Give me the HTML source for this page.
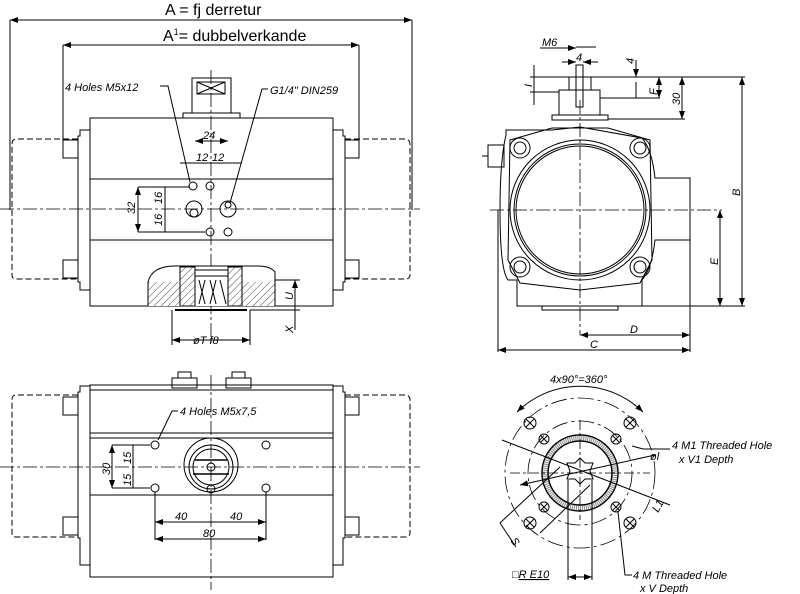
<!DOCTYPE html>
<html><head><meta charset="utf-8"><style>
html,body{margin:0;padding:0;background:#fff}
svg{display:block}
text{font-family:"Liberation Sans",sans-serif;fill:#000}
.i{font-style:italic;font-size:11px}
</style></head><body>
<svg width="800" height="594" viewBox="0 0 800 594" xmlns="http://www.w3.org/2000/svg" stroke="#000" fill="none" stroke-width="1">
<defs>
<marker id="a" markerWidth="8" markerHeight="6" refX="8" refY="3" orient="auto-start-reverse"><path d="M0,0 L8,3 L0,6" fill="#000" stroke="none"/></marker>
<pattern id="h" width="5" height="5" patternUnits="userSpaceOnUse" patternTransform="rotate(45)"><line x1="0" y1="0" x2="0" y2="5" stroke="#000" stroke-width="0.7"/></pattern>
</defs>

<!-- ===== TOP LEFT VIEW ===== -->
<text x="165" y="15" font-size="16" stroke="none">A = fj derretur</text>
<line x1="10" y1="20" x2="412" y2="20" marker-start="url(#a)" marker-end="url(#a)"/>
<line x1="10" y1="20" x2="10" y2="210"/><line x1="412" y1="20" x2="412" y2="210"/>
<text x="163" y="41" font-size="16" stroke="none">A<tspan font-size="9" dy="-6">1</tspan><tspan dy="6">= dubbelverkande</tspan></text>
<line x1="63" y1="45" x2="359" y2="45" marker-start="url(#a)" marker-end="url(#a)"/>
<line x1="63" y1="45" x2="63" y2="140"/><line x1="359" y1="45" x2="359" y2="140"/>
<!-- caps -->
<path d="M78,139 H16 Q12,139 12,145 V275 Q12,279 16,279 H78" stroke-dasharray="6,3"/>
<path d="M345,139 H405 Q410,139 410,145 V275 Q410,279 405,279 H345" stroke-dasharray="6,3"/>
<path d="M90,130 H80 V136 H78 V282 H80 V290 H90"/>
<path d="M333,130 H343 V136 H345 V282 H343 V290 H333"/>
<rect x="63" y="140" width="15" height="18"/><rect x="63" y="260" width="15" height="18"/>
<rect x="345" y="140" width="14" height="18"/><rect x="345" y="260" width="14" height="18"/>
<rect x="90" y="118" width="243" height="188"/>
<line x1="90" y1="179" x2="333" y2="179"/><line x1="90" y1="240" x2="333" y2="240"/>
<!-- top pinion -->
<rect x="183" y="113" width="57" height="5"/>
<rect x="192" y="78" width="39" height="35"/>
<rect x="197" y="82" width="28" height="12"/>
<path d="M197,82 L225,94 M225,82 L197,94"/>
<line x1="0" y1="209" x2="420" y2="209" stroke-dasharray="14,3,3,3" stroke-width="0.8"/>
<line x1="211" y1="70" x2="211" y2="345" stroke-dasharray="14,3,3,3" stroke-width="0.8"/>
<!-- holes -->
<circle cx="193" cy="186" r="4"/><circle cx="210" cy="186" r="4"/>
<circle cx="210" cy="232" r="4"/><circle cx="228" cy="232" r="4"/>
<circle cx="194" cy="209" r="8"/><circle cx="194" cy="213" r="4"/>
<circle cx="228" cy="209" r="8"/><circle cx="228" cy="205" r="3"/>
<text x="65" y="91" class="i" stroke="none">4 Holes M5x12</text>
<path d="M160,86 H168 L190,182"/>
<text x="270" y="94" class="i" stroke="none">G1/4" DIN259</text>
<path d="M268,89 H262 L230,203"/>
<line x1="195" y1="141" x2="228" y2="141" marker-start="url(#a)" marker-end="url(#a)"/>
<text x="203" y="139" class="i" font-size="12" stroke="none">24</text>
<line x1="180" y1="163" x2="242" y2="163"/>
<text x="196" y="161" class="i" font-size="12" stroke="none">12</text><text x="212" y="161" class="i" font-size="12" stroke="none">12</text>
<line x1="138" y1="187" x2="138" y2="232" marker-start="url(#a)" marker-end="url(#a)"/>
<line x1="138" y1="187" x2="190" y2="187"/><line x1="138" y1="232" x2="205" y2="232"/>
<line x1="165" y1="187" x2="165" y2="232"/>
<text x="135" y="214" class="i" font-size="12" stroke="none" transform="rotate(-90 135 214)">32</text>
<text x="162" y="204" class="i" font-size="12" stroke="none" transform="rotate(-90 162 204)">16</text>
<text x="162" y="226" class="i" font-size="12" stroke="none" transform="rotate(-90 162 226)">16</text>
<!-- section -->
<path d="M148,306 V282 Q152,266 175,266 H258 Q270,266 275,272 V306" fill="#fff"/>
<rect x="148" y="282" width="32" height="24" fill="url(#h)" stroke="none"/>
<rect x="242" y="282" width="33" height="24" fill="url(#h)" stroke="none"/>
<rect x="180" y="267" width="15" height="39" fill="url(#h)"/>
<rect x="228" y="267" width="14" height="39" fill="url(#h)"/>
<rect x="195" y="270" width="33" height="6"/>
<path d="M199,280 L205,304 M205,280 L199,304 M210,280 L216,304 M216,280 L210,304 M220,280 L226,304"/>
<path d="M175,310 H247" stroke-width="2"/>
<line x1="172" y1="310" x2="172" y2="345"/><line x1="250" y1="310" x2="250" y2="345"/>
<line x1="172" y1="340" x2="250" y2="340" marker-start="url(#a)" marker-end="url(#a)"/>
<text x="193" y="344" class="i" stroke="none">øT f8</text>
<line x1="275" y1="280" x2="300" y2="280"/><line x1="250" y1="310" x2="300" y2="310"/>
<line x1="295" y1="280" x2="295" y2="330" marker-start="url(#a)"/>
<text x="293" y="300" class="i" stroke="none" transform="rotate(-90 293 300)">U</text>
<text x="293" y="333" class="i" stroke="none" transform="rotate(-90 293 333)">X</text>

<!-- ===== BOTTOM LEFT VIEW ===== -->
<path d="M78,395 H16 Q12,395 12,400 V533 Q12,537 16,537 H78" stroke-dasharray="6,3"/>
<path d="M345,395 H405 Q410,395 410,400 V533 Q410,537 405,537 H345" stroke-dasharray="6,3"/>
<path d="M90,386 H80 V392 H78 V538 H80 V565 H90"/>
<path d="M333,386 H343 V392 H345 V538 H343 V565 H333"/>
<rect x="63" y="397" width="15" height="18"/><rect x="63" y="517" width="15" height="18"/>
<rect x="345" y="397" width="14" height="18"/><rect x="345" y="517" width="14" height="18"/>
<rect x="90" y="385" width="243" height="192"/>
<line x1="90" y1="390" x2="333" y2="390"/>
<line x1="90" y1="433" x2="333" y2="433"/><line x1="90" y1="438" x2="333" y2="438"/>
<line x1="90" y1="495" x2="333" y2="495"/>
<rect x="172" y="378" width="25" height="10"/><rect x="178" y="372" width="13" height="6"/>
<rect x="226" y="378" width="25" height="10"/><rect x="232" y="372" width="13" height="6"/>
<line x1="0" y1="467" x2="420" y2="467" stroke-dasharray="14,3,3,3" stroke-width="0.8"/>
<line x1="211" y1="375" x2="211" y2="590" stroke-dasharray="14,3,3,3" stroke-width="0.8"/>
<circle cx="211" cy="465" r="27"/><circle cx="211" cy="467" r="22"/><circle cx="211" cy="467" r="18"/>
<path d="M195,460 H227 M193,474 H229" stroke-width="1.5"/><circle cx="211" cy="467" r="4"/>
<circle cx="211" cy="489" r="4"/>
<circle cx="155" cy="445" r="4"/><circle cx="266" cy="445" r="4"/>
<circle cx="155" cy="488" r="4"/><circle cx="266" cy="488" r="4"/>
<text x="180" y="415" class="i" stroke="none" font-size="12">4 Holes M5x7,5</text>
<path d="M178,411 H172 L158,440"/>
<line x1="112" y1="445" x2="150" y2="445"/><line x1="112" y1="488" x2="150" y2="488"/>
<line x1="112" y1="445" x2="112" y2="488" marker-start="url(#a)" marker-end="url(#a)"/>
<line x1="133" y1="445" x2="133" y2="488"/>
<text x="110" y="475" class="i" font-size="12" stroke="none" transform="rotate(-90 110 475)">30</text>
<text x="131" y="464" class="i" font-size="12" stroke="none" transform="rotate(-90 131 464)">15</text>
<text x="131" y="486" class="i" font-size="12" stroke="none" transform="rotate(-90 131 486)">15</text>
<line x1="155" y1="492" x2="155" y2="540"/><line x1="266" y1="492" x2="266" y2="540"/>
<line x1="155" y1="522" x2="266" y2="522" marker-start="url(#a)" marker-end="url(#a)"/>
<line x1="155" y1="539" x2="266" y2="539" marker-start="url(#a)" marker-end="url(#a)"/>
<text x="175" y="520" class="i" font-size="12" stroke="none">40</text><text x="230" y="520" class="i" font-size="12" stroke="none">40</text>
<text x="203" y="537" class="i" font-size="12" stroke="none">80</text>

<!-- ===== TOP RIGHT VIEW ===== -->
<path d="M517,306 V280 H508 Q500,270 500,210 Q500,160 506,135 L506,130 H552 L580,127 L642,138 Q652,150 655,178 H690 V240 H655 Q652,268 642,280 V306 Z"/>
<line x1="517" y1="306" x2="642" y2="306"/>
<rect x="542" y="306" width="76" height="4"/>
<path d="M510,140 L552,128 L608,128 L650,140 L652,260 L640,283 L580,290 L520,283 L508,260 Z"/>
<circle cx="580" cy="210" r="70"/><circle cx="580" cy="210" r="66"/><circle cx="580" cy="210" r="64"/>
<circle cx="520" cy="148" r="10"/><circle cx="520" cy="148" r="6"/>
<circle cx="640" cy="148" r="10"/><circle cx="640" cy="148" r="6"/>
<circle cx="520" cy="267" r="10"/><circle cx="520" cy="267" r="6"/>
<circle cx="640" cy="267" r="10"/><circle cx="640" cy="267" r="6"/>
<rect x="488" y="145" width="16" height="22"/><line x1="482" y1="156" x2="488" y2="156"/>
<rect x="552" y="115" width="56" height="5"/>
<rect x="559" y="90" width="41" height="25"/>
<rect x="569" y="77" width="22" height="13"/>
<rect x="576" y="65" width="7" height="42"/>
<line x1="0" y1="0" x2="0" y2="0"/>
<line x1="490" y1="210" x2="722" y2="210" stroke-dasharray="14,3,3,3" stroke-width="0.8"/>
<line x1="580" y1="100" x2="580" y2="335" stroke-dasharray="14,3,3,3" stroke-width="0.8"/>
<line x1="576" y1="47" x2="596" y2="47"/><line x1="540" y1="48" x2="576" y2="48" marker-end="url(#a)"/>
<text x="542" y="46" class="i" font-size="12" stroke="none">M6</text>
<line x1="562" y1="62" x2="576" y2="62" marker-end="url(#a)"/><line x1="598" y1="62" x2="583" y2="62" marker-end="url(#a)"/>
<text x="576" y="61" class="i" stroke="none">4</text>
<line x1="530" y1="77" x2="569" y2="77"/><line x1="530" y1="92" x2="559" y2="92"/>
<line x1="534" y1="65" x2="534" y2="105"/><text x="532" y="87" class="i" stroke="none" transform="rotate(-90 532 87)">I</text>
<line x1="591" y1="77" x2="745" y2="77"/><line x1="600" y1="98" x2="660" y2="98"/>
<line x1="608" y1="119" x2="685" y2="119"/>
<line x1="636" y1="60" x2="636" y2="77" marker-end="url(#a)"/><line x1="636" y1="82" x2="636" y2="98"/>
<text x="634" y="64" class="i" stroke="none" transform="rotate(-90 634 64)">4</text>
<line x1="659" y1="77" x2="659" y2="98" marker-start="url(#a)" marker-end="url(#a)"/>
<text x="657" y="95" class="i" stroke="none" transform="rotate(-90 657 95)">F</text>
<line x1="682" y1="77" x2="682" y2="119" marker-start="url(#a)" marker-end="url(#a)"/>
<text x="680" y="105" class="i" font-size="12" stroke="none" transform="rotate(-90 680 105)">30</text>
<line x1="742" y1="77" x2="742" y2="306" marker-start="url(#a)" marker-end="url(#a)"/>
<text x="740" y="196" class="i" font-size="12" stroke="none" transform="rotate(-90 740 196)">B</text>
<line x1="642" y1="306" x2="745" y2="306"/>
<line x1="720" y1="210" x2="720" y2="306" marker-start="url(#a)" marker-end="url(#a)"/>
<text x="718" y="265" class="i" font-size="12" stroke="none" transform="rotate(-90 718 265)">E</text>
<line x1="690" y1="240" x2="690" y2="352"/><line x1="498" y1="210" x2="498" y2="352"/>
<line x1="580" y1="335" x2="690" y2="335" marker-start="url(#a)" marker-end="url(#a)"/>
<text x="630" y="333" class="i" font-size="12" stroke="none">D</text>
<line x1="498" y1="350" x2="690" y2="350" marker-start="url(#a)" marker-end="url(#a)"/>
<text x="590" y="348" class="i" font-size="12" stroke="none">C</text>

<!-- ===== BOTTOM RIGHT VIEW ===== -->
<text x="550" y="383" class="i" font-size="9" stroke="none">4x90°=360°</text>
<path d="M517,412 A90,90 0 0 1 643,412" marker-start="url(#a)" marker-end="url(#a)"/>
<circle cx="580" cy="473" r="75" stroke-dasharray="16,4,3,4" stroke-width="0.8"/>
<circle cx="580" cy="473" r="52" stroke-dasharray="16,4,3,4" stroke-width="0.8"/>
<circle cx="580" cy="473" r="38" stroke-width="1.5"/>
<circle cx="580" cy="473" r="32" stroke-width="1.5"/>
<circle cx="580" cy="473" r="35" stroke="#888" stroke-width="5" stroke-dasharray="1,1"/>
<path d="M580,458 l5,5 l8,0 l-3,8 l3,8 l-8,0 l-5,5 l-5,-5 l-8,0 l3,-8 l-3,-8 l8,0 z"/>
<g>
<circle cx="530" cy="423" r="6"/><path d="M526,419 l8,8 M534,419 l-8,8"/>
<circle cx="630" cy="423" r="6"/><path d="M626,419 l8,8 M634,419 l-8,8"/>
<circle cx="530" cy="523" r="6"/><path d="M526,519 l8,8 M534,519 l-8,8"/>
<circle cx="630" cy="523" r="6"/><path d="M626,519 l8,8 M634,519 l-8,8"/>
<circle cx="544" cy="439" r="5"/><path d="M541,436 l6,6 M547,436 l-6,6"/>
<circle cx="616" cy="439" r="5"/><path d="M613,436 l6,6 M619,436 l-6,6"/>
<circle cx="544" cy="507" r="5"/><path d="M541,504 l6,6 M547,504 l-6,6"/>
<circle cx="616" cy="507" r="5"/><path d="M613,504 l6,6 M619,504 l-6,6"/>
</g>
<line x1="510" y1="473" x2="650" y2="473" stroke-dasharray="10,3,3,3" stroke-width="0.8"/>
<line x1="580" y1="420" x2="580" y2="520" stroke-dasharray="10,3,3,3" stroke-width="0.8"/>
<line x1="502" y1="440" x2="670" y2="505"/>
<line x1="520" y1="485" x2="655" y2="455" marker-start="url(#a)"/>
<text x="650" y="460" class="i" font-size="11" stroke="none">øl</text>
<text x="658" y="513" class="i" font-size="11" stroke="none" transform="rotate(-60 658 513)">L1</text>
<path d="M560,467 L500,523 M590,485 L540,533 M500,523 L516,547"/>
<text x="510" y="540" class="i" font-size="11" stroke="none" transform="rotate(60 510 540)">S</text>
<line x1="568" y1="480" x2="568" y2="580"/><line x1="592" y1="480" x2="592" y2="580"/>
<line x1="568" y1="577" x2="592" y2="577" marker-start="url(#a)" marker-end="url(#a)"/>
<text x="512" y="578" class="i" font-size="11" stroke="none">□<tspan text-decoration="underline">R E10</tspan></text>
<path d="M632,446 L643,449 H670"/><text x="672" y="449" class="i" stroke="none">4 M1 Threaded Hole</text>
<text x="679" y="463" class="i" stroke="none">x V1 Depth</text>
<path d="M618,512 L625,575 H632"/><text x="633" y="579" class="i" stroke="none">4 M Threaded Hole</text>
<text x="640" y="592" class="i" stroke="none">x V Depth</text>
</svg>
</body></html>
